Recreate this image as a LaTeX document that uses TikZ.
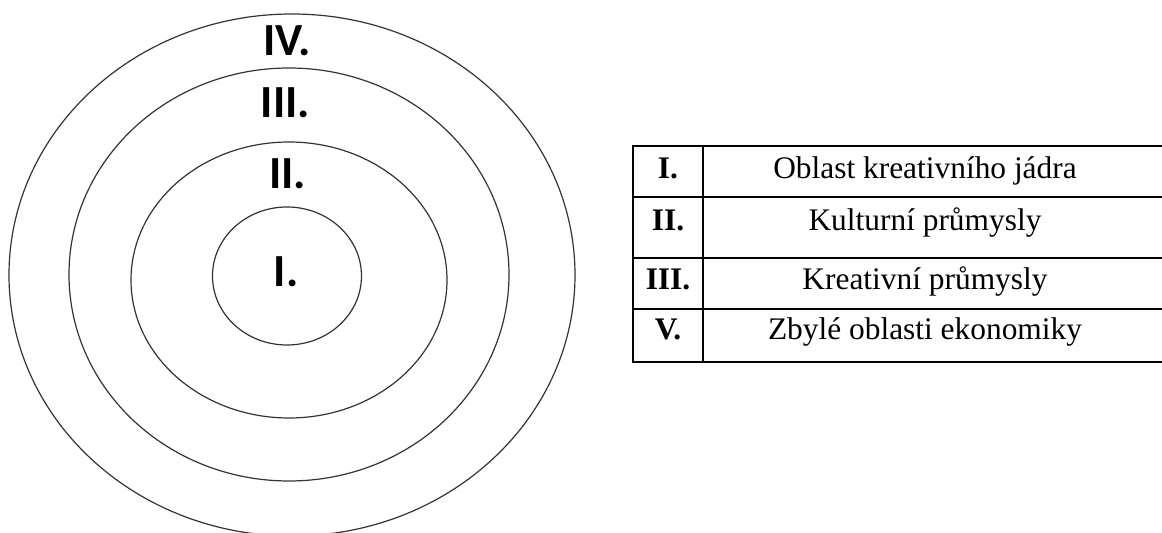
\documentclass[tikz,border=0pt]{standalone}
\usepackage{fontspec}
\setmainfont{Liberation Serif}
\newfontfamily\ringfont{Carlito}
\usetikzlibrary{positioning}
\begin{document}
\begin{tikzpicture}[x=0.5pt, y=-0.5pt,
      ring/.style={draw=black!80, line width=0.6pt},
      ringlbl/.style={font=\ringfont\bfseries\fontsize{23}{27}\selectfont, anchor=base, inner sep=0pt},
      rule/.style={draw=black, line width=0.85pt},
      cellnum/.style={font=\bfseries\fontsize{15.7}{18}\selectfont, anchor=base, inner sep=0pt},
      celltxt/.style={font=\fontsize{15.7}{18}\selectfont, anchor=base, inner sep=0pt}]
    \useasboundingbox (0,0) rectangle (1162,533);
    \clip (0,0) rectangle (1162,533);
    % rings, outer to inner
    \draw[ring] (292,275) ellipse [x radius=283, y radius=261];
    \draw[ring] (289,274.5) ellipse [x radius=220, y radius=206.5];
    \draw[ring] (289,280) ellipse [x radius=158, y radius=138];
    \draw[ring] (287,276) ellipse [x radius=74.5, y radius=69];
    \node[ringlbl] (lblIV) at (287,56) {IV.};
    \node[ringlbl] (lblIII) at (285.5,118) {III.};
    \node[ringlbl] (lblII) at (287.5,189) {II.};
    \node[ringlbl] (lblI) at (286,287) {I.};
    % legend table
    \draw[rule] (632.7,146) rectangle (1175,362);
    \draw[rule] (703,146) -- (703,362);
    \draw[rule] (632.7,197) -- (1175,197);
    \draw[rule] (632.7,258) -- (1175,258);
    \draw[rule] (632.7,309) -- (1175,309);
    \node[cellnum] (numI) at (668,179) {I.};
    \node[celltxt] (txtI) at (925,179) {Oblast kreativního jádra};
    \node[cellnum] (numII) at (668,231) {II.};
    \node[celltxt] (txtII) at (925,231) {Kulturní průmysly};
    \node[cellnum] (numIII) at (668,290) {III.};
    \node[celltxt] (txtIII) at (925,290) {Kreativní průmysly};
    \node[cellnum] (numV) at (668,340) {V.};
    \node[celltxt] (txtV) at (925,340) {Zbylé oblasti ekonomiky};
  \end{tikzpicture}
\end{document}
